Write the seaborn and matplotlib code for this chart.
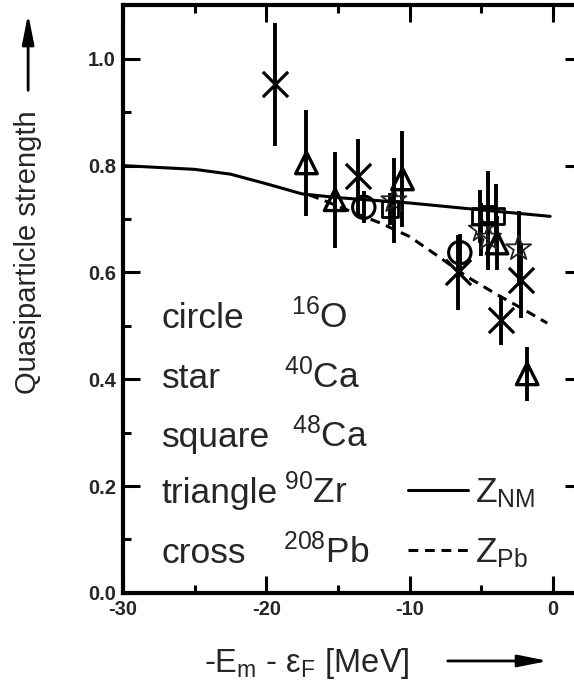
import numpy as np
import pandas as pd
import matplotlib
matplotlib.use("Agg")
import matplotlib.pyplot as plt
from matplotlib.ticker import MultipleLocator
from matplotlib.lines import Line2D
from matplotlib.patches import FancyArrowPatch
import seaborn as sns

# --- measured quasiparticle strengths (x: -E_m - eps_F in MeV) ---
o16_x = [-13.2, -6.5]
o16_y = [0.722, 0.637]
o16_err = [0.03, 0.035]

ca40_x = [-11.1, -5.0, -4.5, -2.4]
ca40_y = [0.735, 0.680, 0.665, 0.645]
ca40_err = [0.08, 0.05, 0.06, 0.07]

ca48_x = [-11.4, -5.1, -4.5, -4.0]
ca48_y = [0.718, 0.705, 0.710, 0.705]
ca48_err = [0.03, 0.05, 0.08, 0.06]

zr90_x = [-17.2, -15.2, -10.5, -3.9, -1.8]
zr90_y = [0.805, 0.736, 0.775, 0.655, 0.410]
zr90_err = [0.10, 0.09, 0.09, 0.05, 0.05]

pb208_x = [-19.4, -13.6, -6.6, -3.6, -2.2]
pb208_y = [0.952, 0.780, 0.600, 0.510, 0.585]
pb208_err = [0.115, 0.07, 0.07, 0.045, 0.07]

# --- theoretical curves ---
znm_x = [-30, -25, -22.5, -20, -17.5, -15, -12.5, -10, -5, -0.2]
znm_y = [0.800, 0.793, 0.784, 0.766, 0.747, 0.740, 0.735, 0.730, 0.717, 0.705]

zpb_x = [-17.0, -16.0, -14.0, -12.0, -10.0, -8.0, -6.0, -4.0, -2.0, -0.4]
zpb_y = [0.745, 0.735, 0.713, 0.692, 0.667, 0.630, 0.592, 0.560, 0.530, 0.505]

shape_names = ["circle", "star", "square", "triangle", "cross"]
isotope_labels = [r"$^{16}$O", r"$^{40}$Ca", r"$^{48}$Ca", r"$^{90}$Zr", r"$^{208}$Pb"]
x_ticks = [-30, -20, -10, 0]
y_ticks = [0.0, 0.2, 0.4, 0.6, 0.8, 1.0]

sns.set_theme(style="ticks")
plt.rcParams["font.family"] = ["Liberation Sans", "DejaVu Sans"]
plt.rcParams["mathtext.fontset"] = "custom"
plt.rcParams["mathtext.rm"] = "Liberation Sans"
plt.rcParams["mathtext.it"] = "Liberation Sans:italic"
plt.rcParams["mathtext.bf"] = "Liberation Sans:bold"
plt.rcParams["mathtext.default"] = "regular"
plt.rcParams["axes.unicode_minus"] = False

fig = plt.figure(figsize=(5.74, 6.95), dpi=100)
ax = fig.add_axes([0.2143, 0.147, 0.80, 0.846])

dash = (0, (3.2, 2.2))

# theory curves
curves = pd.concat([
    pd.DataFrame({"x": znm_x, "y": znm_y, "curve": "NM"}),
    pd.DataFrame({"x": zpb_x, "y": zpb_y, "curve": "Pb"}),
])
sns.lineplot(data=curves[curves.curve == "NM"], x="x", y="y", color="black",
             lw=2.2, ax=ax, sort=False)
sns.lineplot(data=curves[curves.curve == "Pb"], x="x", y="y", color="black",
             lw=2.2, ax=ax, sort=False, linestyle=dash)

groups = [
    ("circle", o16_x, o16_y, o16_err, dict(marker="o", s=260, facecolor="none", edgecolor="black", linewidth=2.2)),
    ("star", ca40_x, ca40_y, ca40_err, dict(marker="*", s=360, facecolor="none", edgecolor="#222222", linewidth=1.3)),
    ("square", ca48_x, ca48_y, ca48_err, dict(marker="s", s=130, facecolor="none", edgecolor="black", linewidth=2.0)),
    ("triangle", zr90_x, zr90_y, zr90_err, dict(marker="^", s=240, facecolor="none", edgecolor="black", linewidth=2.4)),
    ("cross", pb208_x, pb208_y, pb208_err, dict(marker="x", s=330, color="black", linewidth=2.3)),
]

for name, gx, gy, gerr, style in groups:
    ax.errorbar(gx, gy, yerr=gerr, fmt="none", ecolor="black", elinewidth=2.8, capsize=0, zorder=2)
    df = pd.DataFrame({"x": gx, "y": gy})
    sns.scatterplot(data=df, x="x", y="y", ax=ax, zorder=3, legend=False, **style)

ax.set_xlim(-30, 2.04)
ax.set_ylim(0, 1.101)
ax.set_xlabel("")
ax.set_ylabel("")

ax.xaxis.set_minor_locator(MultipleLocator(5))
ax.yaxis.set_minor_locator(MultipleLocator(0.1))
ax.set_xticks(x_ticks)
ax.set_xticklabels([str(t) for t in x_ticks])
ax.set_yticks(y_ticks)
ax.set_yticklabels([f"{t:.1f}" for t in y_ticks])

ax.tick_params(which="both", direction="in", top=True, right=True, width=2.2, color="black")
ax.tick_params(which="major", length=12, labelsize=14.5, pad=5)
ax.tick_params(which="minor", length=6)
for lab in ax.get_xticklabels() + ax.get_yticklabels():
    lab.set_fontweight("bold")
for sp in ax.spines.values():
    sp.set_linewidth(3.0)
    sp.set_color("black")

# nucleus key written inside the frame
row_y = [0.451, 0.349, 0.248, 0.153, 0.051]
iso_x = [0.366, 0.350, 0.368, 0.350, 0.349]
for name, iso, yy, ix in zip(shape_names, isotope_labels, row_y, iso_x):
    ax.text(0.084, yy, name, transform=ax.transAxes, fontsize=25.5, va="baseline", ha="left")
    ax.text(ix, yy, iso, transform=ax.transAxes, fontsize=25.5, va="baseline", ha="left")

handles = [Line2D([], [], color="black", lw=2.2),
           Line2D([], [], color="black", lw=2.2, linestyle=dash)]
ax.legend(handles, [r"Z$_{NM}$", r"Z$_{Pb}$"], loc="lower left",
          bbox_to_anchor=(0.605, 0.026), frameon=False, fontsize=25.5,
          handlelength=1.7, handletextpad=0.2, labelspacing=0.75,
          borderaxespad=0.1, borderpad=0.1)

# axis titles with direction arrows
fig.text(0.049, 0.637, "Quasiparticle strength", rotation=90, fontsize=21,
         ha="center", va="center")
fig.add_artist(FancyArrowPatch(
    (0.049, 0.870), (0.049, 0.980), transform=fig.transFigure,
    arrowstyle="-|>,head_length=0.9,head_width=0.18", color="black", lw=2.0,
    mutation_scale=20, shrinkA=0, shrinkB=0))
fig.text(0.535, 0.046, r"-E$_m$ - ε$_F$ [MeV]", fontsize=23.5, ha="center", va="center")
fig.add_artist(FancyArrowPatch(
    (0.780, 0.049), (0.955, 0.049), transform=fig.transFigure,
    arrowstyle="-|>,head_length=0.9,head_width=0.18", color="black", lw=2.0,
    mutation_scale=20, shrinkA=0, shrinkB=0))

fig.savefig("out.png", dpi=100)
